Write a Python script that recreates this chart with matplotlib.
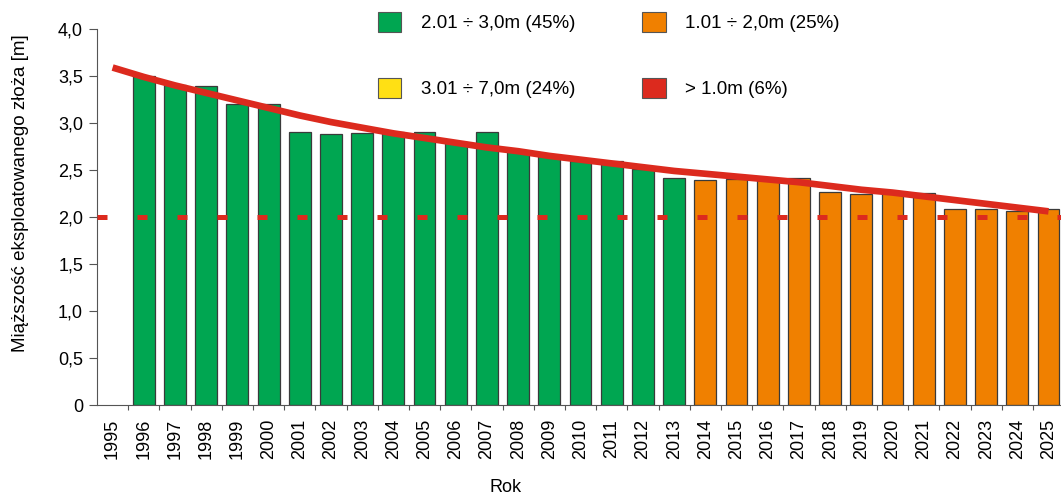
import matplotlib
matplotlib.use("Agg")
import matplotlib.pyplot as plt
from matplotlib.patches import Patch
import numpy as np

plt.rcParams['font.family'] = ['Liberation Sans', 'DejaVu Sans']

# data
years = list(range(1995, 2026))
thickness = [0, 3.50, 3.40, 3.39, 3.20, 3.20, 2.90, 2.88, 2.89, 2.90, 2.90,
             2.80, 2.90, 2.70, 2.65, 2.60, 2.60, 2.51, 2.41, 2.39, 2.40,
             2.42, 2.42, 2.27, 2.25, 2.26, 2.26, 2.09, 2.09, 2.06, 2.09]
trend = [3.59, 3.49, 3.40, 3.32, 3.24, 3.16, 3.08, 3.01, 2.95, 2.89, 2.84,
         2.79, 2.74, 2.70, 2.65, 2.61, 2.57, 2.53, 2.49, 2.46, 2.43,
         2.40, 2.37, 2.33, 2.29, 2.26, 2.22, 2.18, 2.14, 2.10, 2.06]
threshold = 2.0
split_year = 2013  # green up to this year, orange after

legend_labels = ["2.01 \u00f7 3,0m (45%)", "3.01 \u00f7 7,0m (24%)",
                 "1.01 \u00f7 2,0m (25%)", "> 1.0m (6%)"]
green = "#00a651"
orange = "#f08000"
yellow = "#ffe014"
red = "#dc2a1e"

x = np.arange(len(years))
colors = [green if y <= split_year else orange for y in years]

fig = plt.figure(figsize=(10.61, 4.99), dpi=100)
ax = fig.add_axes([97 / 1061, 1 - 405 / 499, 964 / 1061, 376 / 499])

mask = [v > 0 for v in thickness]
ax.bar(x[mask], np.array(thickness)[mask], width=0.7,
       color=np.array(colors)[mask], edgecolor="#3a3a3a", linewidth=0.9, zorder=2)

ax.axhline(threshold, color=red, linewidth=3.6, linestyle=(0, (2.0, 6.0)),
           zorder=3, clip_on=False)
ax.plot(x, trend, color=red, linewidth=4.8, solid_capstyle="butt", zorder=4)

ax.set_xlim(-0.5, 30.4)
ax.set_ylim(0, 4.0)

ax.set_xticks(x)
ax.set_xticklabels([str(y) for y in years], rotation=90, fontsize=13)
ax.tick_params(axis="x", which="major", length=0, pad=10)
ax.set_xticks(x[1:] - 0.5, minor=True)
ax.tick_params(axis="x", which="minor", length=3.5, width=0.8, color="#555555")

yt = np.arange(0, 4.01, 0.5)
ax.set_yticks(yt)
ax.set_yticklabels(["0"] + [("%.1f" % v).replace(".", ",") for v in yt[1:]], fontsize=13)
ax.tick_params(axis="y", length=6, width=0.8, color="#555555", pad=4)

for s in ["top", "right"]:
    ax.spines[s].set_visible(False)
for s in ["left", "bottom"]:
    ax.spines[s].set_color("#555555")
    ax.spines[s].set_linewidth(0.8)

ax.set_ylabel("Miąższość eksploatowanego złoża [m]", fontsize=13.5)
ax.yaxis.set_label_coords(-(97 - 29) / 964, 0.564)
ax.set_xlabel("Rok", fontsize=13)
ax.xaxis.set_label_coords((506 - 97) / 964, -(496 - 405) / 376)
ax.xaxis.label.set_verticalalignment("bottom")

handles = [Patch(facecolor=c, edgecolor="#555555", linewidth=0.8)
           for c in [green, yellow, orange, red]]
fig.legend(handles, legend_labels, ncol=2, loc="upper left",
           bbox_to_anchor=(378 / 1061, 1 - 12 / 499), frameon=False,
           borderpad=0, borderaxespad=0,
           fontsize=13.5, handlelength=1.25, handleheight=1.25,
           handletextpad=1.05, columnspacing=3.55, labelspacing=2.45)

fig.savefig("out.png", dpi=100)
